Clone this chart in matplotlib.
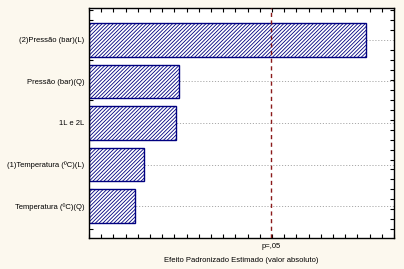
import numpy as np
import matplotlib as mpl
mpl.use('Agg')
import matplotlib.pyplot as plt
from matplotlib.ticker import MultipleLocator

labels = ['(2)Pressão (bar)(L)', 'Pressão (bar)(Q)', '1L e 2L',
          '(1)Temperatura (ºC)(L)', 'Temperatura (ºC)(Q)']
effects = [3.04, 0.99, 0.96, 0.60, 0.50]
p_crit = 2.0

plt.rcParams['font.family'] = ['Liberation Sans', 'DejaVu Sans']
plt.rcParams['hatch.linewidth'] = 0.6

fig = plt.figure(figsize=(4.04, 2.69), dpi=100)
fig.patch.set_facecolor('#fcf8ee')
ax = fig.add_axes([89/404, 1-238/269, 305/404, 230/269])
ax.set_facecolor('white')

y = np.arange(len(labels))
for yy in y:
    ax.axhline(yy, color='#aaaaaa', lw=0.7, ls=(0, (1.2, 1.8)), zorder=0)
ax.barh(y, effects, height=0.8, color='white', edgecolor='#000080',
        hatch='/' * 9, linewidth=1.0, zorder=2)
ax.axvline(p_crit, color='#8b1a1a', lw=1.0, ls=(0, (3, 2.5)), zorder=3)

ax.set_xlim(0, 305/91)
ax.set_ylim(4.77, -0.77)
ax.set_yticks(y)
ax.set_yticklabels(labels, fontsize=5.5)
ax.set_xticks([p_crit])
ax.set_xticklabels(['p=,05'], fontsize=5.5)
ax.xaxis.set_minor_locator(MultipleLocator(12.2/91))
ax.yaxis.set_minor_locator(MultipleLocator(0.24))
ax.tick_params(axis='both', which='major', length=0, pad=3.5)
ax.tick_params(axis='both', which='minor', direction='in', length=3,
               width=0.8, top=True, right=True, left=True, bottom=True)
ax.set_xlabel('Efeito Padronizado Estimado (valor absoluto)', fontsize=5.5,
              labelpad=5.5)
for s in ax.spines.values():
    s.set_linewidth(1.0)

fig.savefig('out.png', dpi=100, facecolor=fig.get_facecolor())
